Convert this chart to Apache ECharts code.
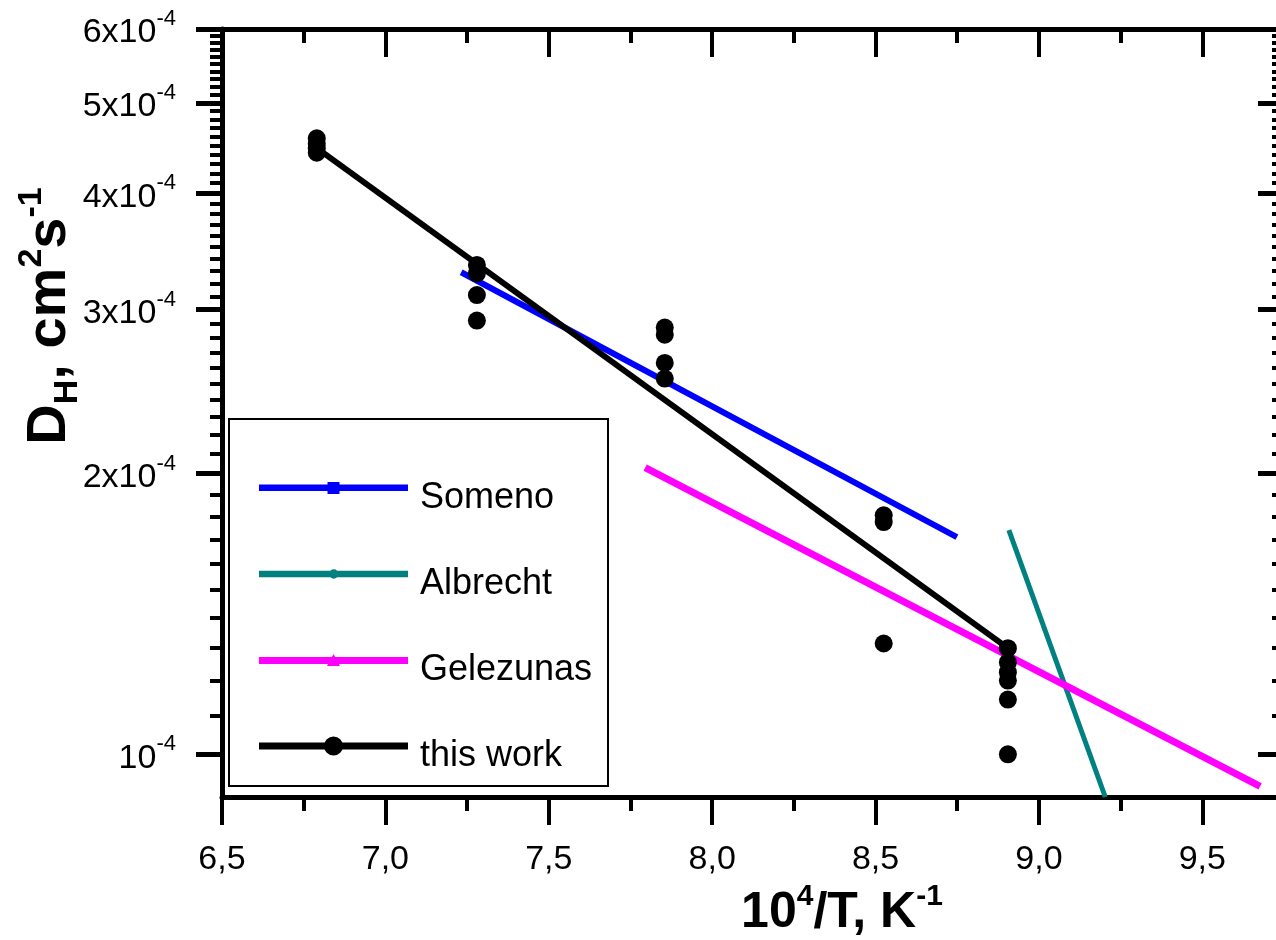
<!DOCTYPE html>
<html><head><meta charset="utf-8">
<script src="https://cdn.jsdelivr.net/npm/echarts@6/dist/echarts.min.js"></script>
<style>html,body{margin:0;padding:0;background:#fff}#c{width:1276px;height:940px}</style>
</head><body><div id="c"></div>
<script>
// ---- data ----
const xMajorTicks = [6.5, 7.0, 7.5, 8.0, 8.5, 9.0, 9.5];
const xMinorTicks = [6.75, 7.25, 7.75, 8.25, 8.75, 9.25];
const yMajorTicks = [1e-4, 2e-4, 3e-4, 4e-4, 5e-4, 6e-4];
const yMinorTicks = [
  1.1e-4, 1.2e-4, 1.3e-4, 1.4e-4, 1.5e-4, 1.6e-4, 1.7e-4, 1.8e-4, 1.9e-4,
  2.1e-4, 2.2e-4, 2.3e-4, 2.4e-4, 2.5e-4, 2.6e-4, 2.7e-4, 2.8e-4, 2.9e-4,
  3.1e-4, 3.2e-4, 3.3e-4, 3.4e-4, 3.5e-4, 3.6e-4, 3.7e-4, 3.8e-4, 3.9e-4,
  4.1e-4, 4.2e-4, 4.3e-4, 4.4e-4, 4.5e-4, 4.6e-4, 4.7e-4, 4.8e-4, 4.9e-4,
  5.1e-4, 5.2e-4, 5.3e-4, 5.4e-4, 5.5e-4, 5.6e-4, 5.7e-4, 5.8e-4, 5.9e-4
];
const seriesNames = ['Someno', 'Albrecht', 'Gelezunas', 'this work'];
const thisWorkX = [6.79, 6.79, 6.79, 6.79, 7.28, 7.28, 7.28, 7.28, 7.855, 7.855, 7.855, 7.855,
                   8.525, 8.525, 8.525, 8.905, 8.905, 8.905, 8.905, 8.905, 8.905];
const thisWorkY = [4.58e-4, 4.52e-4, 4.47e-4, 4.42e-4, 3.35e-4, 3.28e-4, 3.11e-4, 2.92e-4,
                   2.87e-4, 2.82e-4, 2.63e-4, 2.53e-4, 1.805e-4, 1.775e-4, 1.315e-4,
                   1.30e-4, 1.255e-4, 1.225e-4, 1.20e-4, 1.145e-4, 1.0e-4];
const thisWorkFitX = [6.79, 8.905];
const thisWorkFitY = [4.47e-4, 1.30e-4];
const somenoX = [7.232, 8.749];
const somenoY = [3.29e-4, 1.71e-4];
const albrechtX = [8.908, 9.203];
const albrechtY = [1.74e-4, 9.0e-5];
const gelezunasX = [7.795, 9.677];
const gelezunasY = [2.03e-4, 9.24e-5];

// ---- chart ----
const FONT = 'Liberation Sans, Arial, sans-serif';
const pairs = (xs, ys) => xs.map((x, i) => [x, ys[i]]);
const chart = echarts.init(document.getElementById('c'), null, {renderer: 'canvas'});

const xBase = {type: 'value', min: 6.5, max: 9.75, gridIndex: 0, splitLine: {show: false},
  axisLine: {onZero: false, show: false}, axisLabel: {show: false}, axisTick: {show: false}};
const yBase = {type: 'log', logBase: 10, min: 9e-5, max: 6e-4, gridIndex: 0, splitLine: {show: false},
  axisLine: {onZero: false, show: false}, axisLabel: {show: false}, axisTick: {show: false}};
const AXLINE = {show: true, onZero: false, lineStyle: {color: '#000', width: 5}};

function yLabel(v) {
  const m = Math.round(v / 1e-4);
  if (m === 1) return '{m|10}{s|-4}';
  return '{m|' + m + 'x10}{s|-4}';
}

const option = {
  backgroundColor: '#fff',
  animation: false,
  grid: {left: 222, right: -8, top: 29, bottom: 143, outerBoundsMode: 'none', containLabel: false},
  xAxis: [
    Object.assign({}, xBase, {position: 'bottom', axisLine: AXLINE,
      axisTick: {show: true, inside: false, length: 28, customValues: xMajorTicks, lineStyle: {color: '#000', width: 4}},
      axisLabel: {show: true, customValues: xMajorTicks, margin: 46, color: '#000', fontFamily: FONT, fontSize: 34,
        formatter: v => v.toFixed(1).replace('.', ',')}}),
    Object.assign({}, xBase, {position: 'top', axisLine: AXLINE,
      axisTick: {show: true, inside: true, length: 28, customValues: xMajorTicks, lineStyle: {color: '#000', width: 4}}}),
    Object.assign({}, xBase, {position: 'bottom',
      axisTick: {show: true, inside: false, length: 14, customValues: xMinorTicks, lineStyle: {color: '#000', width: 4}}}),
    Object.assign({}, xBase, {position: 'top',
      axisTick: {show: true, inside: true, length: 14, customValues: xMinorTicks, lineStyle: {color: '#000', width: 4}}})
  ],
  yAxis: [
    Object.assign({}, yBase, {position: 'left', axisLine: AXLINE,
      axisTick: {show: true, inside: false, length: 26, customValues: yMajorTicks, lineStyle: {color: '#000', width: 5}},
      axisLabel: {show: true, customValues: yMajorTicks, margin: 46, formatter: yLabel,
        rich: {m: {fontFamily: FONT, fontSize: 34, color: '#000', lineHeight: 42, verticalAlign: 'bottom'},
               s: {fontFamily: FONT, fontSize: 22, color: '#000', lineHeight: 42, verticalAlign: 'top'}}}}),
    Object.assign({}, yBase, {position: 'right', axisLine: AXLINE,
      axisTick: {show: true, inside: true, length: 26, customValues: yMajorTicks, lineStyle: {color: '#000', width: 5}}}),
    Object.assign({}, yBase, {position: 'left',
      axisTick: {show: true, inside: false, length: 12, customValues: yMinorTicks, lineStyle: {color: '#000', width: 4}}}),
    Object.assign({}, yBase, {position: 'right',
      axisTick: {show: true, inside: true, length: 12, customValues: yMinorTicks, lineStyle: {color: '#000', width: 4}}})
  ],
  legend: {
    orient: 'vertical', left: 259, top: 460, padding: 0, itemGap: 30,
    itemWidth: 149, itemHeight: 20, selectedMode: false,
    itemStyle: {borderWidth: 0},
    formatter: name => '{t|' + name + '}',
    textStyle: {fontFamily: FONT, fontSize: 36, color: '#000',
      rich: {t: {fontFamily: FONT, fontSize: 36, color: '#000', lineHeight: 36, padding: [20, 0, 0, 7]}}},
    data: [
      {name: 'Someno', icon: 'path://M0,2.5h149v6.5h-149Z M68.5,0h12v12h-12Z'},
      {name: 'Albrecht', icon: 'path://M0,1.5h149v6.5h-149Z M70,4.75a4.75,4.75 0 1,1 9.5,0a4.75,4.75 0 1,1 -9.5,0Z'},
      {name: 'Gelezunas', icon: 'path://M0,3h149v7h-149Z M68,12L74.5,0L81,12Z'},
      {name: 'this work', icon: 'path://M0,6h149v7h-149Z M65,9.5a9.5,9.5 0 1,1 19,0a9.5,9.5 0 1,1 -19,0Z'}
    ]
  },
  graphic: [
    {type: 'rect', shape: {x: 229, y: 419, width: 379, height: 367}, style: {fill: 'none', stroke: '#000', lineWidth: 2}, z: 1},
    {type: 'text', x: 842, y: 910, style: {
      text: '{b|10}{p|4}{b|/T, K}{p|-1}', align: 'center', verticalAlign: 'middle',
      rich: {b: {fontFamily: FONT, fontWeight: 'bold', fontSize: 50, lineHeight: 56, verticalAlign: 'bottom', fill: '#000'},
             p: {fontFamily: FONT, fontWeight: 'bold', fontSize: 30, lineHeight: 56, verticalAlign: 'top', fill: '#000'}}}},
    {type: 'text', x: 50, y: 316, rotation: Math.PI / 2, style: {
      text: '{b|D}{d|H}{b|, cm}{p|2}{b|s}{p|-1}', align: 'center', verticalAlign: 'middle',
      rich: {b: {fontFamily: FONT, fontWeight: 'bold', fontSize: 56, lineHeight: 70, verticalAlign: 'middle', fill: '#000'},
             d: {fontFamily: FONT, fontWeight: 'bold', fontSize: 34, lineHeight: 70, verticalAlign: 'bottom', fill: '#000'},
             p: {fontFamily: FONT, fontWeight: 'bold', fontSize: 34, lineHeight: 70, verticalAlign: 'top', fill: '#000'}}}}
  ],
  series: [
    {name: 'Someno', type: 'line', data: pairs(somenoX, somenoY), showSymbol: false, symbol: 'rect',
     color: '#0000FF', lineStyle: {color: '#0000FF', width: 6}, itemStyle: {color: '#0000FF'}, z: 3},
    {name: 'Albrecht', type: 'line', data: pairs(albrechtX, albrechtY), showSymbol: false, symbol: 'circle',
     color: '#008080', lineStyle: {color: '#008080', width: 5}, itemStyle: {color: '#008080'}, z: 3},
    {name: 'Gelezunas', type: 'line', data: pairs(gelezunasX, gelezunasY), showSymbol: false, symbol: 'triangle',
     color: '#FF00FF', lineStyle: {color: '#FF00FF', width: 7}, itemStyle: {color: '#FF00FF'}, z: 3},
    {name: 'this work', type: 'line', data: pairs(thisWorkFitX, thisWorkFitY), showSymbol: false, symbol: 'circle',
     color: '#000', lineStyle: {color: '#000', width: 6}, itemStyle: {color: '#000'}, z: 4},
    {name: 'this work', type: 'scatter', data: pairs(thisWorkX, thisWorkY), symbol: 'circle', symbolSize: 18,
     color: '#000', itemStyle: {color: '#000', opacity: 1}, z: 5}
  ]
};
chart.setOption(option);
</script>
</body></html>
